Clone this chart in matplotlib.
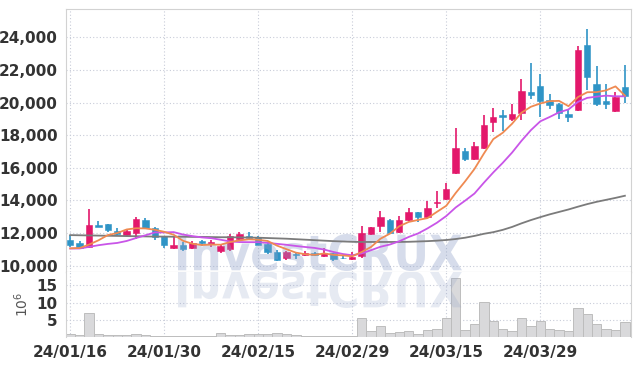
import matplotlib
matplotlib.use('Agg')
import matplotlib.pyplot as plt
import numpy as np
import pandas as pd
from matplotlib.textpath import TextPath
from matplotlib.patches import PathPatch
from matplotlib.font_manager import FontProperties
from matplotlib.transforms import Affine2D, IdentityTransform

# KRX trading days (Lunar new year, Samiljeol, election day closed)
holidays = ['2024-02-09', '2024-02-12', '2024-03-01', '2024-04-10']
dates = pd.bdate_range('2024-01-16', periods=60, freq='C', holidays=holidays)

opens = [11550, 11425, 11160, 12480, 12550, 12120, 11890, 12020, 12800, 12320,
         11810, 11090, 11260, 11090, 11520, 11320, 10930, 11030, 11630, 11800,
         11770, 11320, 10850, 10480, 10710, 10650, 10810, 10600, 10790, 10500,
         10420, 10600, 11940, 12440, 12800, 12080, 12800, 13290, 13000, 13820,
         14080, 15660, 17030, 16520, 17200, 18830, 19240, 18980, 19350, 20640,
         21020, 20160, 19920, 19300, 19550, 23540, 21150, 20100, 19500, 20940]
highs = [11900, 11500, 13470, 12730, 12560, 12290, 12260, 12960, 12900, 12380,
         11850, 11770, 11460, 11520, 11610, 11570, 11300, 11940, 12040, 12080,
         11800, 11460, 10950, 10900, 10850, 10900, 10850, 11060, 10800, 10600,
         10850, 12430, 12380, 13350, 12880, 13020, 13550, 13300, 13980, 14590,
         15090, 18460, 17200, 17570, 19240, 19690, 19550, 19920, 21430, 22420,
         21740, 20530, 19950, 19590, 23480, 24500, 22210, 21130, 20670, 22290]
lows = [11150, 11000, 11100, 12350, 12040, 11860, 11830, 11670, 12300, 11610,
        11060, 11030, 10890, 11050, 11220, 11160, 10810, 10930, 11600, 11660,
        11260, 10750, 10300, 10350, 10440, 10600, 10600, 10550, 10300, 10400,
        10380, 10500, 11870, 12080, 11950, 12000, 12750, 12690, 12950, 13520,
        14000, 15600, 16440, 16450, 17140, 18220, 18280, 18900, 18940, 20200,
        19140, 19590, 18980, 18800, 19500, 20780, 19790, 19590, 19440, 19960]
closes = [11300, 11060, 12490, 12380, 12180, 11920, 12160, 12860, 12320, 11770,
          11300, 11260, 11000, 11420, 11380, 11440, 11220, 11810, 11930, 11710,
          11300, 10850, 10380, 10850, 10650, 10810, 10660, 10810, 10440, 10460,
          10540, 11980, 12350, 12960, 12020, 12800, 13300, 12960, 13530, 13920,
          14680, 17200, 16520, 17340, 18630, 19100, 19140, 19300, 20720, 20450,
          20100, 19860, 19380, 19100, 23230, 21590, 19900, 19900, 20330, 20430]
# volume in millions of shares
volumes = [1.0, 0.6, 7.0, 1.0, 0.7, 0.7, 0.5, 1.0, 0.5, 0.4,
           0.4, 0.3, 0.3, 0.3, 0.3, 0.4, 1.2, 0.7, 0.7, 0.8,
           0.9, 1.0, 1.2, 1.0, 0.7, 0.4, 0.3, 0.3, 0.3, 0.3,
           0.3, 5.6, 1.7, 3.3, 1.2, 1.5, 1.7, 0.9, 2.0, 2.4,
           5.6, 17.2, 2.0, 3.8, 10.1, 4.6, 2.4, 1.7, 5.6, 3.3,
           4.6, 2.4, 2.0, 1.7, 8.5, 6.7, 3.8, 2.4, 2.0, 4.3]

# averages at the start of the window (need closes before 01/16)
ma5_head = [11070, 11090, 11300, 11560]
ma10_head = [11060, 11060, 11160, 11260, 11340, 11400, 11520, 11700, 11870]
ma60 = [11880, 11870, 11860, 11850, 11840, 11830, 11820, 11810, 11800, 11790,
        11790, 11780, 11780, 11770, 11770, 11760, 11750, 11750, 11740, 11730,
        11720, 11700, 11680, 11660, 11630, 11600, 11570, 11540, 11510, 11490,
        11470, 11460, 11460, 11460, 11460, 11460, 11470, 11490, 11510, 11540,
        11580, 11640, 11720, 11830, 11960, 12060, 12200, 12380, 12600, 12800,
        12980, 13150, 13300, 13450, 13620, 13780, 13920, 14040, 14160, 14290]

ma5 = pd.Series(closes, dtype=float).rolling(5).mean().to_numpy()
ma5[:len(ma5_head)] = ma5_head
ma10 = pd.Series(closes, dtype=float).rolling(10).mean().to_numpy()
ma10[:len(ma10_head)] = ma10_head

UP = '#e3186b'
DOWN = '#2f94c6'
GRID = '#c8ccd8'
EDGE = '#d2d2d2'
tick_font = dict(family=['Liberation Sans Narrow', 'DejaVu Sans'], size=11, weight='bold')

fig = plt.figure(figsize=(6.39, 3.66), dpi=100)
ax = fig.add_axes([66 / 639, 94 / 366, 565 / 639, 263 / 366])
axv = fig.add_axes([66 / 639, 29 / 366, 565 / 639, 65 / 366], sharex=ax)

x = np.arange(len(closes))
o = np.array(opens, dtype=float)
c = np.array(closes, dtype=float)
colors = [UP if cc >= oo else DOWN for oo, cc in zip(o, c)]

ax.vlines(x, lows, highs, colors=colors, linewidth=1.2, zorder=3)
body_h = np.maximum(np.abs(c - o), 40)
ax.bar(x, body_h, bottom=np.minimum(o, c), width=0.68, color=colors,
       edgecolor=colors, linewidth=0.4, zorder=3)

ax.plot(x, ma60, color='#7b7b7b', lw=1.3, zorder=5)
ax.plot(x, ma10, color='#c955e8', lw=1.3, zorder=5)
ax.plot(x, ma5, color='#ef8a52', lw=1.3, zorder=5)

axv.bar(x, volumes, width=1.0, color='#d9d9db', edgecolor='#bdbdbd', linewidth=0.7, zorder=2)

ax.set_xlim(-0.45, 59.65)
ax.set_ylim(9620, 25730)
axv.set_ylim(0, 18.9)

ax.set_yticks(np.arange(10000, 24001, 2000))
ax.set_yticklabels([f'{v:,}' for v in range(10000, 24001, 2000)], **tick_font)
axv.set_yticks([5, 10, 15])
axv.set_yticklabels(['5', '10', '15'], **tick_font)
tick_idx = list(range(0, 60, 10))
axv.set_xticks(tick_idx)
axv.set_xticklabels([dates[i].strftime('%y/%m/%d') for i in tick_idx], **tick_font)
ax.tick_params(axis='x', labelbottom=False)

for a in (ax, axv):
    a.grid(True, color=GRID, linestyle=(0, (1, 2)), linewidth=0.8)
    a.set_axisbelow(True)
    a.tick_params(length=0, colors='#333333', pad=6)
    for s in a.spines.values():
        s.set_color(EDGE)
        s.set_linewidth(0.8)
ax.spines['bottom'].set_color('#bcbcbc')
axv.spines['top'].set_visible(False)
axv.spines['bottom'].set_visible(False)
axv.set_ylabel(r'$10^6$', fontsize=10, color='#555555', labelpad=4)

# InvestCRUX watermark over the candles, under the average lines; reflection in the volume pane
tp = TextPath((0, 0), 'InvestCRUX', size=50,
              prop=FontProperties(family='DejaVu Sans', weight='bold'))
ext = tp.get_extents()
sx = 284 / ext.width
sy = 37 / ext.height
for target, flip, alpha in ((ax, 1, 0.36), (axv, -1, 0.22)):
    tr = Affine2D().translate(-ext.x0, -ext.y0).scale(sx, sy * flip).translate(178, 95)
    patch = PathPatch(tr.transform_path(tp), facecolor='#8fa0c8', edgecolor='none',
                      alpha=alpha, transform=IdentityTransform(), zorder=4)
    target.add_artist(patch)

fig.savefig('out.png', dpi=100, facecolor='white')
